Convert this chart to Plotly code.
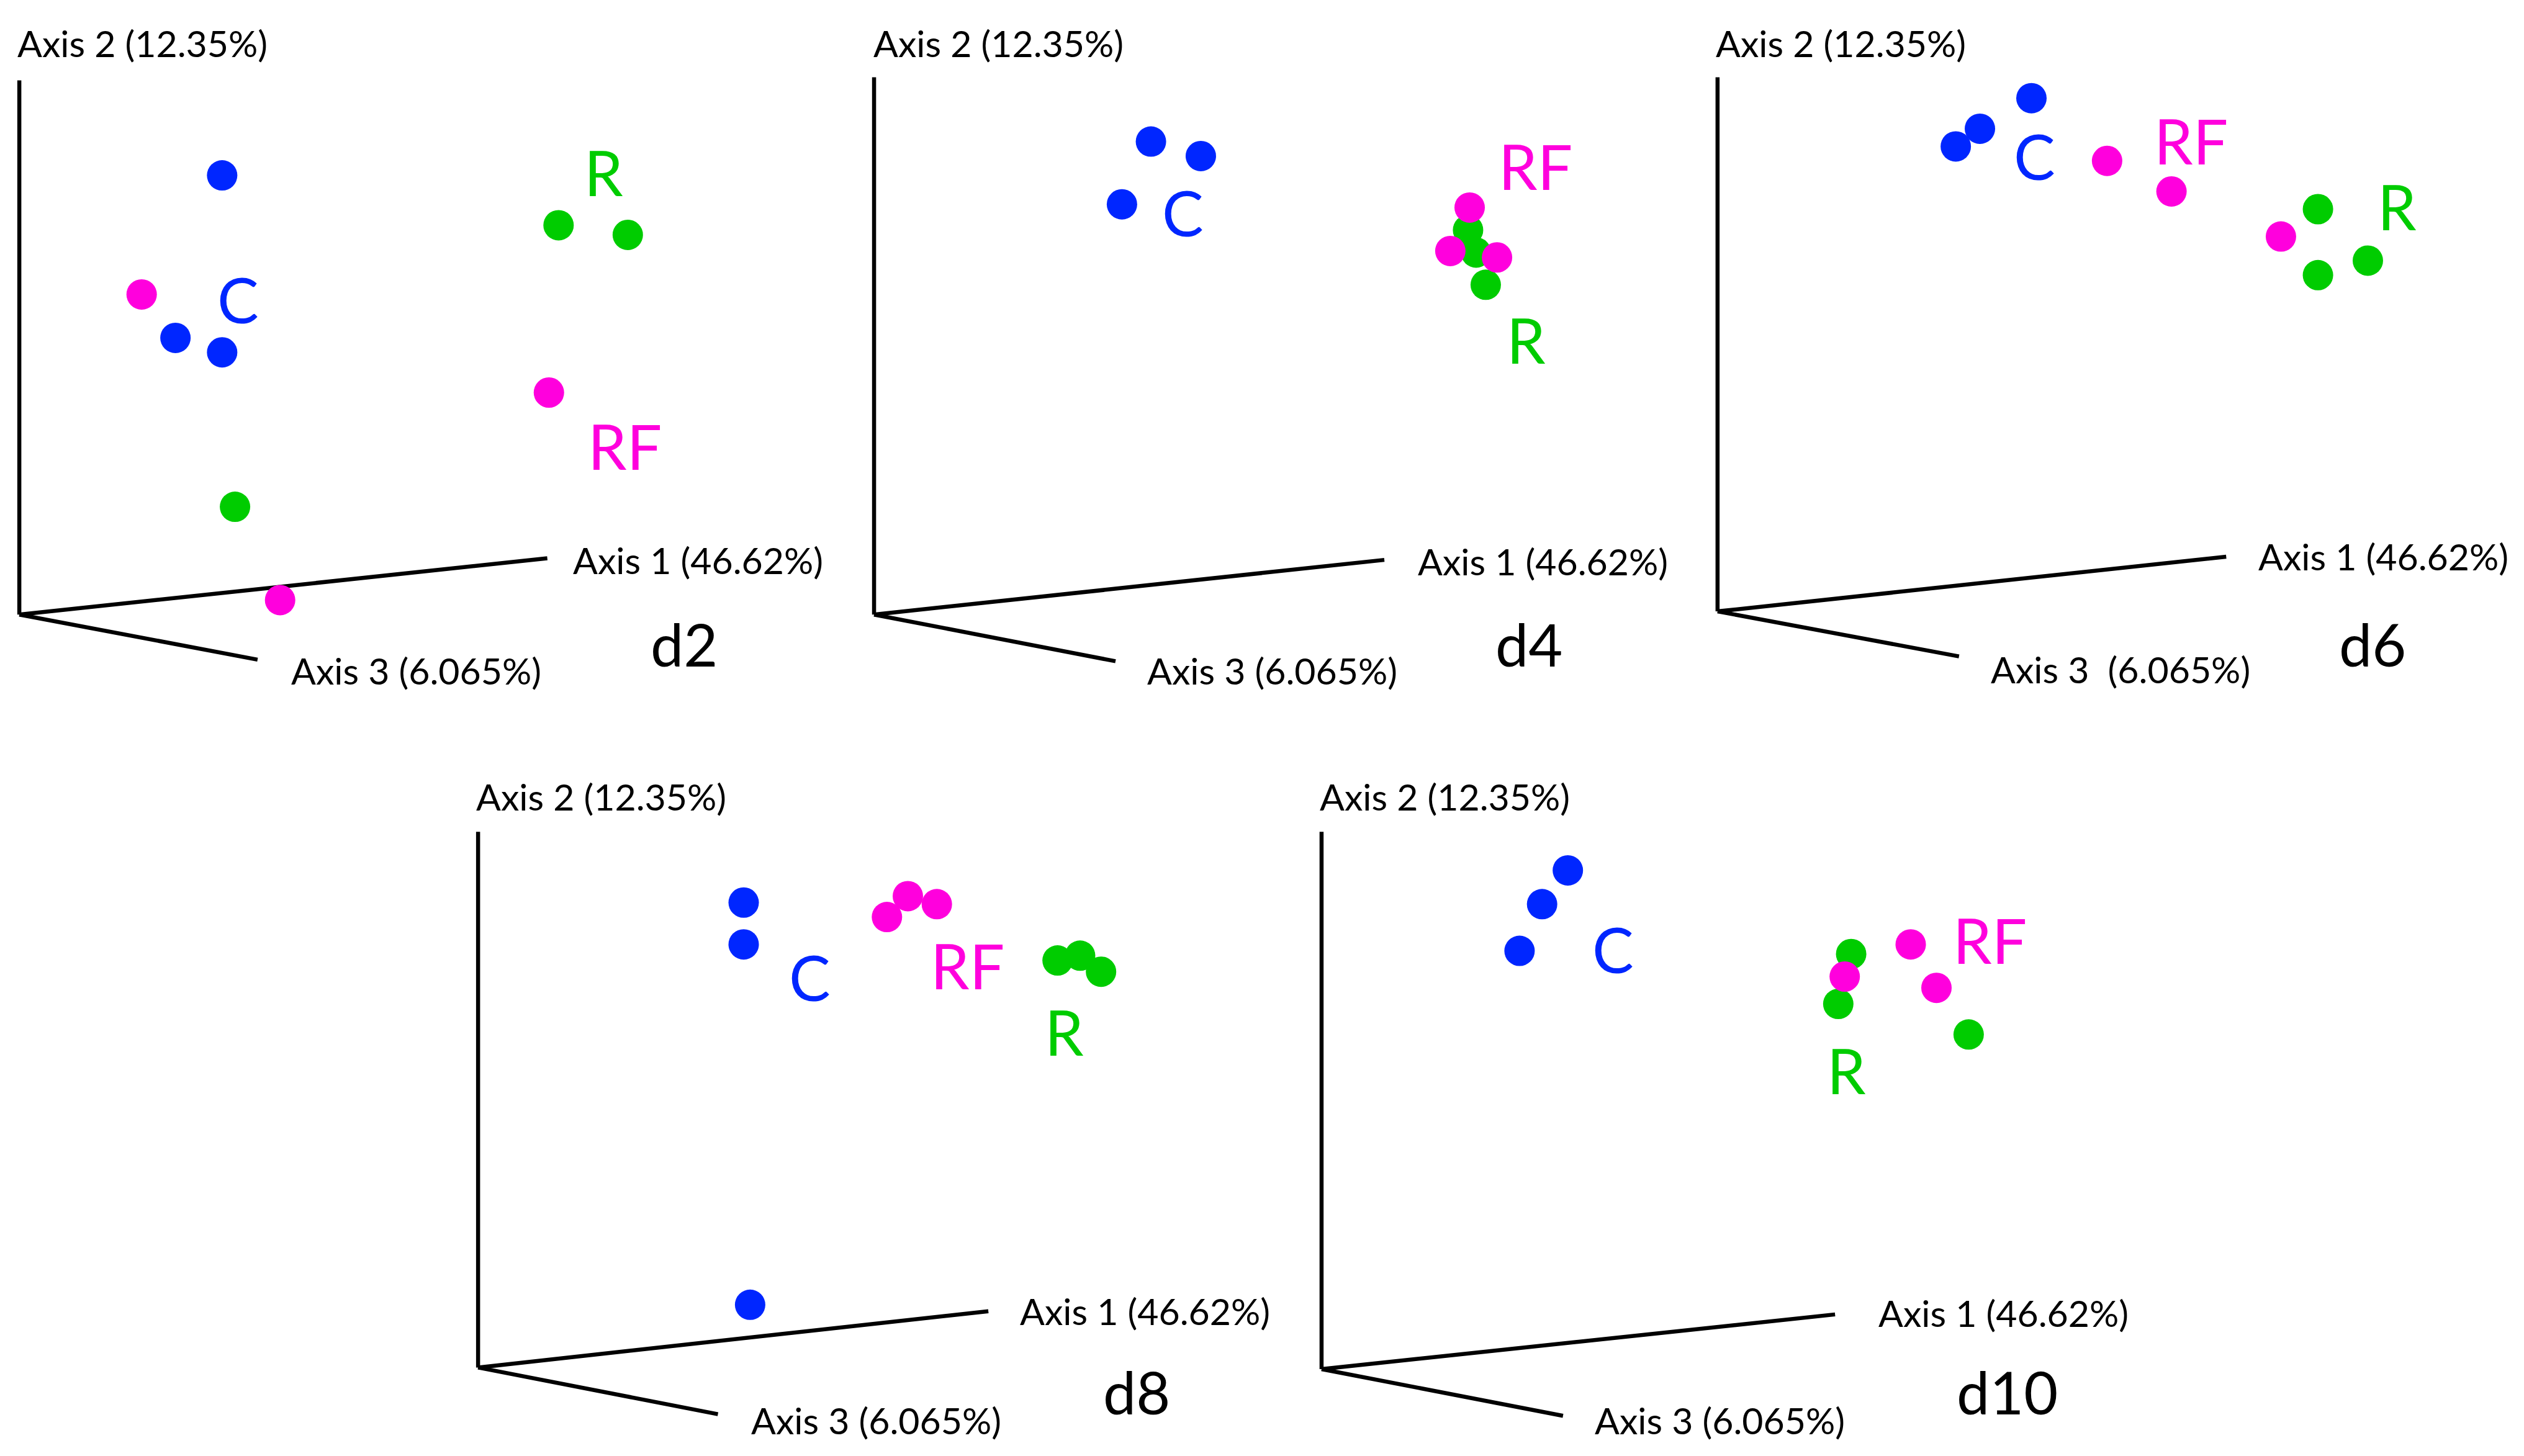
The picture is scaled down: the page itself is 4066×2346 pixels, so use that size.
import plotly.graph_objects as go

# ---- data (local panel coordinates: x right, y up from the pseudo-3D origin) ----
panel_names = ["d2", "d4", "d6", "d8", "d10"]
panel_origin = [(12, 382), (543, 382), (1067, 380), (297, 850), (821, 851)]

c_x = [[126, 97, 126], [172, 203, 154], [195, 163, 148], [165, 165, 169], [153, 137, 123]]
c_y = [[273, 172, 163], [294, 285, 255], [319, 300, 289], [289, 263, 39], [310, 289, 260]]
r_x = [[335, 378, 134], [369, 374, 380], [373, 373, 404], [360, 374, 387], [329, 321, 402]]
r_y = [[242, 236, 67], [239, 225, 205], [250, 209, 218], [253, 256, 246], [258, 227, 208]]
rf_x = [[76, 329, 162], [370, 358, 387], [242, 282, 350], [267, 285, 254], [366, 382, 325]]
rf_y = [[199, 138, 9], [253, 226, 222], [280, 261, 233], [293, 288, 280], [264, 237, 244]]

group_labels = ["C", "R", "RF"]
c_lab = [(136, 196), (192, 250), (197, 283), (206, 243), (181, 261)]
r_lab = [(363, 275), (405, 171), (422, 252), (364, 209), (326, 186)]
rf_lab = [(376, 105), (411, 279), (294, 293), (304, 250), (415, 267)]

axis1_text = "Axis 1 (46.62%)"
axis2_text = "Axis 2 (12.35%)"
axis3_texts = ["Axis 3 (6.065%)", "Axis 3 (6.065%)", "Axis 3  (6.065%)", "Axis 3 (6.065%)", "Axis 3 (6.065%)"]

axis2_top = [332, 334, 332, 333, 334]
axis1_end = [(328, 35), (317, 34), (316, 34), (317, 35), (319, 34)]
axis3_end = [(148, -28), (150, -29), (150, -28), (149, -29), (150, -29)]
axis2_lab = [(-2, 355), (-1, 355), (-2, 353), (-2, 355), (-2, 356)]
axis1_lab = [(343, 34), (337, 33), (335, 34), (336, 35), (345, 35)]
axis3_lab = [(168, -35), (169, -35), (169, -36), (169, -33), (169, -32)]
day_lab = [(413, -18), (407, -18), (407, -20), (409, -15), (426, -14)]

BLUE = "#0026ff"
GREEN = "#00cc00"
MAGENTA = "#ff00dd"
FONT = "Lato"

W, H = 4066, 2346
RW, RH = 1568, 905  # reference frame units
XL, XR, YB, YT = -10, 500, -50, 360

fig = go.Figure()
layout_axes = {}
annotations = []

for i, name in enumerate(panel_names):
    ox, oy = panel_origin[i]
    k = "" if i == 0 else str(i + 1)
    xa, ya = "x" + k, "y" + k
    xd = [(ox + XL) / RW, (ox + XR) / RW]
    yd = [1 - (oy - YB) / RH, 1 - (oy - YT) / RH]
    layout_axes["xaxis" + k] = dict(domain=xd, range=[XL, XR], visible=False, fixedrange=True, anchor=ya)
    layout_axes["yaxis" + k] = dict(domain=yd, range=[YB, YT], visible=False, fixedrange=True, anchor=xa)

    # pseudo-3D axes
    fig.add_trace(go.Scatter(
        x=[0, 0, None, 0, axis1_end[i][0], None, 0, axis3_end[i][0]],
        y=[axis2_top[i], 0, None, 0, axis1_end[i][1], None, 0, axis3_end[i][1]],
        mode="lines", line=dict(color="black", width=6.5), xaxis=xa, yaxis=ya,
        showlegend=False, hoverinfo="skip"))

    for xs, ys, col in [(c_x[i], c_y[i], BLUE), (r_x[i], r_y[i], GREEN), (rf_x[i], rf_y[i], MAGENTA)]:
        fig.add_trace(go.Scatter(x=xs, y=ys, mode="markers",
                                 marker=dict(color=col, size=49, line=dict(width=0)),
                                 xaxis=xa, yaxis=ya, showlegend=False, cliponaxis=False))

    for lab, pos, col in [("C", c_lab[i], BLUE), ("R", r_lab[i], GREEN), ("RF", rf_lab[i], MAGENTA)]:
        annotations.append(dict(text=lab, x=pos[0], y=pos[1], xref=xa, yref=ya, showarrow=False,
                                xanchor="center", yanchor="middle",
                                font=dict(family=FONT, size=100, color=col)))

    for txt, pos in [(axis2_text, axis2_lab[i]), (axis1_text, axis1_lab[i]), (axis3_texts[i], axis3_lab[i])]:
        annotations.append(dict(text=txt, x=pos[0], y=pos[1], xref=xa, yref=ya, showarrow=False,
                                xanchor="left", yanchor="middle",
                                font=dict(family=FONT, size=59, color="black")))

    annotations.append(dict(text=name, x=day_lab[i][0], y=day_lab[i][1], xref=xa, yref=ya, showarrow=False,
                            xanchor="center", yanchor="middle",
                            font=dict(family=FONT, size=95, color="black")))

fig.update_layout(width=W, height=H, margin=dict(l=0, r=0, t=0, b=0),
                  paper_bgcolor="white", plot_bgcolor="rgba(0,0,0,0)",
                  annotations=annotations, **layout_axes)

fig.write_html("out.html", config={"displayModeBar": False},
               post_script="document.body.style.margin='0';")
